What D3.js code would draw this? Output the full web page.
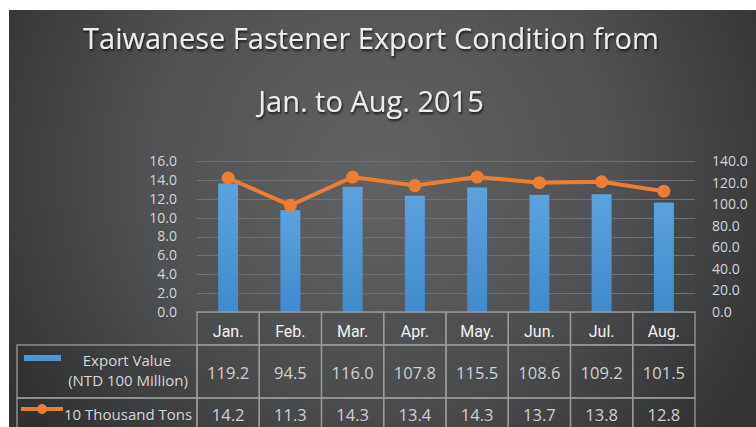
<!DOCTYPE html>
<html>
<head>
<meta charset="utf-8">
<script src="https://cdn.jsdelivr.net/npm/d3@7"></script>
<style>
  body { margin: 0; background: #fff; }
  svg { display: block; }
</style>
</head>
<body>
<svg id="chart" width="756" height="427"></svg>
<script>
// data
var months = ["Jan.", "Feb.", "Mar.", "Apr.", "May.", "Jun.", "Jul.", "Aug."];
var exportValue = [119.2, 94.5, 116.0, 107.8, 115.5, 108.6, 109.2, 101.5]; // NTD 100 Million, right axis
var tons = [14.2, 11.3, 14.3, 13.4, 14.3, 13.7, 13.8, 12.8]; // 10 thousand tons, left axis
var leftTicks = [0, 2, 4, 6, 8, 10, 12, 14, 16];
var rightTicks = [0, 20, 40, 60, 80, 100, 120, 140];
var titleLines = ["Taiwanese Fastener Export Condition from", "Jan. to Aug. 2015"];

var svg = d3.select("#chart");
var font = "'Open Sans', sans-serif";

// background with soft radial light
var defs = svg.append("defs");
var bg = defs.append("radialGradient").attr("id", "bg")
  .attr("gradientUnits", "userSpaceOnUse")
  .attr("cx", 380).attr("cy", 170).attr("r", 430);
bg.append("stop").attr("offset", "0").attr("stop-color", "#616264");
bg.append("stop").attr("offset", "0.55").attr("stop-color", "#505153");
bg.append("stop").attr("offset", "1").attr("stop-color", "#333334");

var barGrad = defs.append("linearGradient").attr("id", "barGrad")
  .attr("x1", 0).attr("y1", 0).attr("x2", 0).attr("y2", 1);
barGrad.append("stop").attr("offset", "0").attr("stop-color", "#5ba3de");
barGrad.append("stop").attr("offset", "1").attr("stop-color", "#3f8bcd");

var shadow = defs.append("filter").attr("id", "shadow")
  .attr("x", "-10%").attr("y", "-30%").attr("width", "120%").attr("height", "160%");
shadow.append("feDropShadow").attr("dx", 1).attr("dy", 2)
  .attr("stdDeviation", 1.2).attr("flood-color", "#000").attr("flood-opacity", 0.7);

svg.append("rect").attr("x", 9).attr("y", 10).attr("width", 747).attr("height", 417)
  .attr("fill", "url(#bg)");

// title
svg.append("g").attr("filter", "url(#shadow)")
  .selectAll("text").data(titleLines).enter().append("text")
  .attr("x", 371).attr("y", function (d, i) { return i === 0 ? 49 : 112; })
  .attr("text-anchor", "middle")
  .attr("font-family", font).attr("font-size", 29)
  .attr("fill", "#ececec")
  .text(function (d) { return d; });

// scales
var x = d3.scaleBand().domain(months).range([197, 695]);
var yL = d3.scaleLinear().domain([0, 16]).range([312, 161]);
var yR = d3.scaleLinear().domain([0, 140]).range([312, 161]);

// gridlines
svg.append("g").selectAll("line").data(leftTicks).enter().append("line")
  .attr("x1", 197).attr("x2", 695)
  .attr("y1", function (d) { return Math.round(yL(d)) + 0.5; })
  .attr("y2", function (d) { return Math.round(yL(d)) + 0.5; })
  .attr("stroke", "#6f7072").attr("stroke-width", 1);

// axes
var leftAxis = svg.append("g").attr("transform", "translate(197,0)")
  .call(d3.axisLeft(yL).tickValues(leftTicks).tickFormat(d3.format(".1f")).tickSize(0).tickPadding(20));
var rightAxis = svg.append("g").attr("transform", "translate(695,0)")
  .call(d3.axisRight(yR).tickValues(rightTicks).tickFormat(d3.format(".1f")).tickSize(0).tickPadding(17));
[leftAxis, rightAxis].forEach(function (a) {
  a.select(".domain").remove();
  a.selectAll("text").attr("font-family", font).attr("font-size", 14).attr("fill", "#d4d4d4");
});

// bars
var barW = x.bandwidth() * 0.32;
svg.append("g").selectAll("rect").data(exportValue).enter().append("rect")
  .attr("x", function (d, i) { return x(months[i]) + x.bandwidth() / 2 - barW / 2; })
  .attr("y", function (d) { return yR(d); })
  .attr("width", barW)
  .attr("height", function (d) { return yR(0) - yR(d); })
  .attr("fill", "url(#barGrad)");

// line
var line = d3.line()
  .x(function (d, i) { return x(months[i]) + x.bandwidth() / 2; })
  .y(function (d) { return yL(d); });
svg.append("path").datum(tons).attr("d", line)
  .attr("fill", "none").attr("stroke", "#ed7d31").attr("stroke-width", 4)
  .attr("stroke-linejoin", "round");
svg.append("g").selectAll("circle").data(tons).enter().append("circle")
  .attr("cx", function (d, i) { return x(months[i]) + x.bandwidth() / 2; })
  .attr("cy", function (d) { return yL(d); })
  .attr("r", 6.5).attr("fill", "#ed7d31");

// data table
var table = svg.append("g");
var border = "#9b9c9e";
var rowTop = [312, 345, 398];
var rowBot = [345, 398, 445];

// header cells
table.selectAll(".hcell").data(months).enter().append("rect")
  .attr("x", function (d) { return x(d); }).attr("y", rowTop[0])
  .attr("width", x.bandwidth()).attr("height", rowBot[0] - rowTop[0])
  .attr("fill", "rgba(0,0,0,0.06)").attr("stroke", border).attr("stroke-width", 1.3);
table.selectAll(".htext").data(months).enter().append("text")
  .attr("x", function (d) { return x(d) + x.bandwidth() / 2; }).attr("y", 337)
  .attr("text-anchor", "middle").attr("font-family", "Roboto, sans-serif")
  .attr("font-size", 16).attr("fill", "#f2f2f2")
  .text(function (d) { return d; });

// label cells
[1, 2].forEach(function (r) {
  table.append("rect").attr("x", 17).attr("y", rowTop[r])
    .attr("width", 197 - 17).attr("height", rowBot[r] - rowTop[r])
    .attr("fill", "rgba(0,0,0,0.06)").attr("stroke", border).attr("stroke-width", 1.3);
  table.selectAll(".vcell" + r).data(months).enter().append("rect")
    .attr("x", function (d) { return x(d); }).attr("y", rowTop[r])
    .attr("width", x.bandwidth()).attr("height", rowBot[r] - rowTop[r])
    .attr("fill", "rgba(0,0,0,0.06)").attr("stroke", border).attr("stroke-width", 1.3);
});

// values
table.selectAll(".v1").data(exportValue).enter().append("text")
  .attr("x", function (d, i) { return x(months[i]) + x.bandwidth() / 2; }).attr("y", 379)
  .attr("text-anchor", "middle").attr("font-family", font).attr("font-size", 16.5)
  .attr("fill", "#cfcfcf").text(function (d) { return d.toFixed(1); });
table.selectAll(".v2").data(tons).enter().append("text")
  .attr("x", function (d, i) { return x(months[i]) + x.bandwidth() / 2; }).attr("y", 421)
  .attr("text-anchor", "middle").attr("font-family", font).attr("font-size", 16.5)
  .attr("fill", "#cfcfcf").text(function (d) { return d.toFixed(1); });

// legend keys inside the table
table.append("rect").attr("x", 24).attr("y", 355).attr("width", 37).attr("height", 6)
  .attr("fill", "#4a96d6");
table.append("text").attr("x", 127).attr("y", 366).attr("text-anchor", "middle")
  .attr("font-family", font).attr("font-size", 15).attr("fill", "#d6d6d6")
  .text("Export Value");
table.append("text").attr("x", 128).attr("y", 386).attr("text-anchor", "middle")
  .attr("font-family", font).attr("font-size", 15).attr("fill", "#d6d6d6")
  .text("(NTD 100 Million)");
table.append("line").attr("x1", 21).attr("x2", 63).attr("y1", 409).attr("y2", 409)
  .attr("stroke", "#ed7d31").attr("stroke-width", 4);
table.append("circle").attr("cx", 42).attr("cy", 409).attr("r", 5).attr("fill", "#ed7d31");
table.append("text").attr("x", 64).attr("y", 420)
  .attr("font-family", font).attr("font-size", 15).attr("fill", "#d6d6d6")
  .text("10 Thousand Tons");
</script>
</body>
</html>
